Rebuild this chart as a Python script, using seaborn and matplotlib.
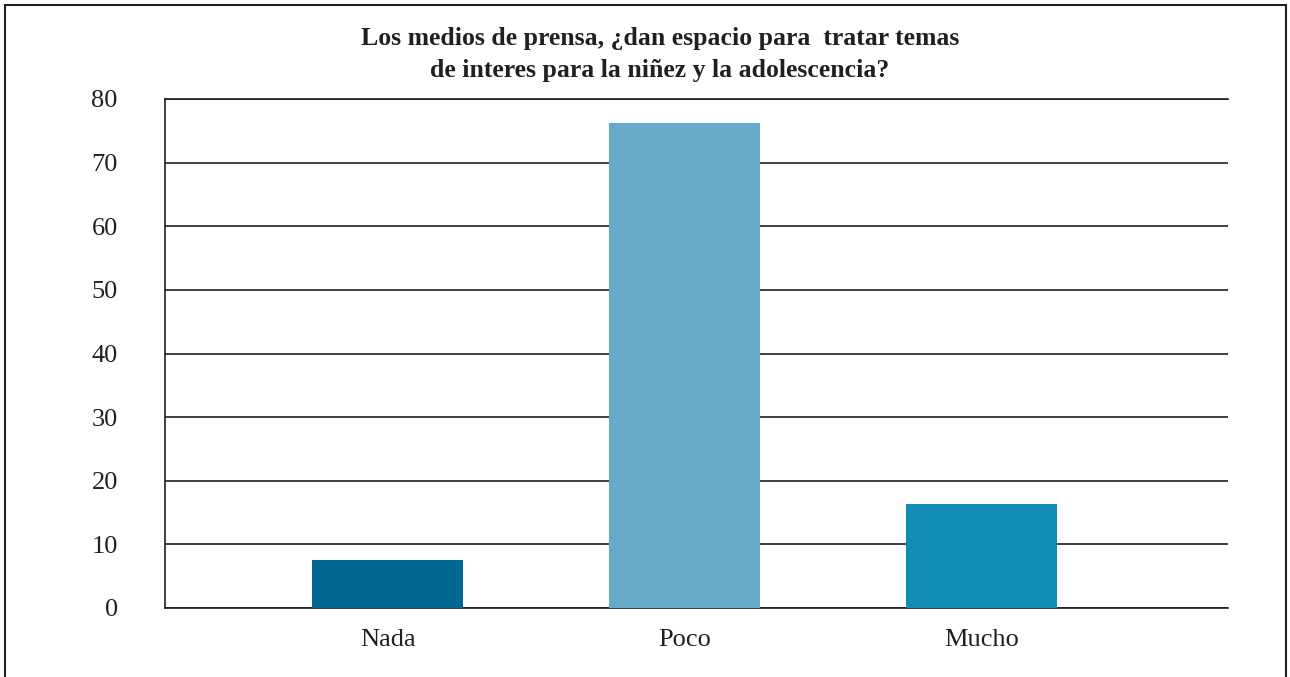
import matplotlib
matplotlib.use('Agg')
import matplotlib.pyplot as plt
import seaborn as sns
import pandas as pd
from matplotlib.patches import Rectangle

categorias = ['Nada', 'Poco', 'Mucho']
valores = [7.6, 76.2, 16.4]
colores = ['#026893', '#66aac9', '#128bb5']
yticks = [0, 10, 20, 30, 40, 50, 60, 70, 80]

sns.set_style('white')
plt.rcParams['font.family'] = ['Liberation Serif', 'DejaVu Serif']

df = pd.DataFrame({'categoria': categorias, 'valor': valores})

fig = plt.figure(figsize=(12.9, 6.77), dpi=100)
ax = fig.add_axes([165 / 1290, 1 - 608 / 677, (1228 - 165) / 1290, (608 - 99) / 677])

sns.barplot(data=df, x='categoria', y='valor', hue='categoria', palette=colores,
            width=0.51, legend=False, ax=ax, zorder=3, saturation=1, linewidth=0)

ax.set_ylim(0, 80)
ax.set_xlim(-0.75, 2.83)
ax.set_yticks(yticks)
ax.set_yticklabels([str(t) for t in yticks])
ax.yaxis.grid(True, color='#231f20', linewidth=1.2, zorder=0)
ax.set_axisbelow(True)
ax.set_xlabel('')
ax.set_ylabel('')
ax.spines['right'].set_visible(False)
for s in ['left', 'bottom', 'top']:
    ax.spines[s].set_color('#231f20')
    ax.spines[s].set_linewidth(1.2)
ax.tick_params(axis='y', length=0, pad=34, labelsize=19, colors='#231f20')
ax.tick_params(axis='x', length=0, pad=15, labelsize=19, colors='#231f20')

fig.text(660 / 1290, 1 - 54 / 677,
         'Los medios de prensa, ¿dan espacio para  tratar temas\nde interes para la niñez y la adolescencia?',
         ha='center', va='center', fontsize=18.5, fontweight='bold', color='#231f20', linespacing=1.5)

frame = Rectangle((5 / 1290, -0.05), (1286 - 5) / 1290, 1.05 - 5 / 677,
                  transform=fig.transFigure, fill=False, edgecolor='#231f20', linewidth=1.5)
fig.patches.append(frame)

fig.savefig('out.png', dpi=100)
